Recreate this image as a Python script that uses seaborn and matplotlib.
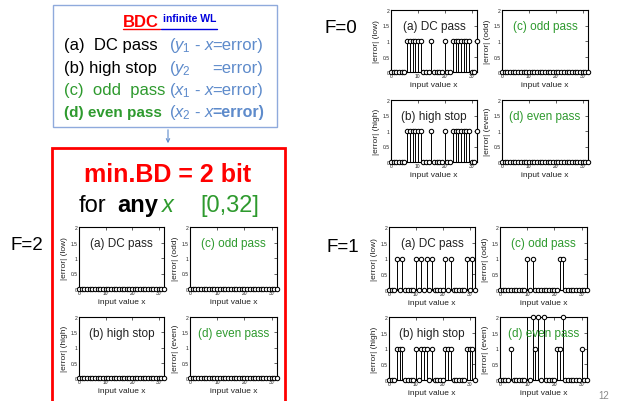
import matplotlib
matplotlib.use("Agg")
import matplotlib.pyplot as plt
import seaborn as sns
from matplotlib.patches import Rectangle, FancyArrowPatch
from matplotlib.lines import Line2D

# Datos: |error| para x = 0..32
x_vals = list(range(33))

f0_low = [0, 0, 0, 0, 0, 0, 1, 1, 1, 1, 1, 1, 0, 0, 0, 1, 0,
          0, 0, 0, 1, 0, 0, 1, 1, 1, 1, 1, 1, 1, 0, 0, 1]
f0_high = [0, 0, 0, 0, 0, 0, 1, 1, 1, 1, 1, 1, 0, 0, 0, 1, 0,
           0, 0, 0, 1, 0, 0, 1, 1, 1, 1, 1, 1, 1, 0, 0, 1]
f0_odd = [0, 0, 0, 0, 0, 0, 0, 0, 0, 0, 0, 0, 0, 0, 0, 0, 0,
          0, 0, 0, 0, 0, 0, 0, 0, 0, 0, 0, 0, 0, 0, 0, 0]
f0_even = [0, 0, 0, 0, 0, 0, 0, 0, 0, 0, 0, 0, 0, 0, 0, 0, 0,
           0, 0, 0, 0, 0, 0, 0, 0, 0, 0, 0, 0, 0, 0, 0, 0]

f1_low = [0, 0, 0, 1, 0, 1, 0, 0, 0, 0, 1, 0, 1, 0, 1, 0, 1,
          0, 0, 0, 0, 1, 0, 1, 0, 0, 0, 0, 0, 1, 0, 1, 0]
f1_high = [0, 0, 0, 1, 1, 1, 0, 0, 0, 0, 1, 0, 1, 1, 1, 0, 1,
           0, 0, 0, 0, 1, 1, 1, 0, 0, 0, 0, 0, 1, 1, 1, 0]
f1_odd = [0, 0, 0, 0, 0, 0, 0, 0, 0, 0, 1, 0, 1, 0, 0, 0, 0,
          0, 0, 0, 0, 0, 1, 1, 0, 0, 0, 0, 0, 0, 0, 0, 0]
f1_even = [0, 0, 0, 0, 1, 0, 0, 0, 0, 0, 3, 0, 2, 1, 2, 0, 2,
           0, 0, 0, 0, 1, 1, 2, 0, 0, 0, 0, 0, 0, 1, 0, 0]

f2_zero = [0, 0, 0, 0, 0, 0, 0, 0, 0, 0, 0, 0, 0, 0, 0, 0, 0,
           0, 0, 0, 0, 0, 0, 0, 0, 0, 0, 0, 0, 0, 0, 0, 0]

y_ticks = [0, 0.5, 1, 1.5, 2]
y_tick_labels = ["0", "0.5", "1", "1.5", "2"]
x_ticks = [0, 10, 20, 30]

W, H = 621, 402
VERDE = "#2E9A2E"
AZUL_CLARO = "#5E8BCB"
ROJO = "#FF0000"

sns.set_theme(style="white")
plt.rcParams["font.family"] = ["Liberation Sans", "DejaVu Sans"]
plt.rcParams["mathtext.fontset"] = "custom"
plt.rcParams["mathtext.rm"] = "Liberation Sans"
plt.rcParams["mathtext.it"] = "Liberation Sans:italic"
plt.rcParams["mathtext.bf"] = "Liberation Sans:bold"

fig = plt.figure(figsize=(W / 100, H / 100), dpi=100)
fig.patch.set_facecolor("white")


def fx(px):
    return px / W


def fy(py):
    return 1 - py / H


def texto(px, py, s, **kw):
    fig.text(fx(px), fy(py), s, va="baseline", **kw)


def panel(l, t, r, b, valores, ylab, titulo, color_titulo):
    ax = fig.add_axes([fx(l), fy(b), (r - l) / W, (b - t) / H])
    ax.set_xlim(0, 32)
    ax.set_ylim(0, 2)
    # Tallos
    ax.vlines(x_vals, 0, valores, color="black", lw=0.7, zorder=2)
    # Marcadores (los que quedan fuera del eje no se dibujan)
    xs = [xv for xv, v in zip(x_vals, valores) if v <= 2]
    ys = [v for v in valores if v <= 2]
    sns.scatterplot(x=xs, y=ys, ax=ax, marker="o", s=10, color="white",
                    edgecolor="black", linewidth=0.75, clip_on=False,
                    zorder=3, legend=False)
    ax.set_xticks(x_ticks)
    ax.set_xticklabels([str(v) for v in x_ticks])
    ax.set_yticks(y_ticks)
    ax.set_yticklabels(y_tick_labels)
    ax.tick_params(direction="in", length=2, width=0.5, labelsize=3.6,
                   pad=1, top=True, right=True, colors="#222222")
    for sp in ax.spines.values():
        sp.set_linewidth(0.8)
        sp.set_color("black")
    ax.set_xlabel("input value x", fontsize=6, labelpad=2, color="#222222")
    ax.set_ylabel(ylab, fontsize=6, labelpad=2, color="#222222")
    ax.text(0.5, 0.74, titulo, transform=ax.transAxes, ha="center",
            va="center", fontsize=8.5, color=color_titulo)
    return ax


# Cuadro superior (BDC)
fig.add_artist(Rectangle((fx(53), fy(128)), (277 - 53) / W, (128 - 6) / H,
                         transform=fig.transFigure, fill=False,
                         edgecolor="#8FAADC", lw=1))
texto(123, 27, "BDC", fontsize=12, fontweight="bold", color=ROJO)
texto(163, 22, "infinite WL", fontsize=7.5, fontweight="bold", color="#0000DD")
fig.add_artist(Line2D([fx(123), fx(160)], [fy(30), fy(30)], color=ROJO, lw=1))
fig.add_artist(Line2D([fx(161), fx(217)], [fy(30), fy(30)], color="#0000DD", lw=1))

texto(64, 50, "(a)  DC pass", fontsize=12, color="black")
texto(169, 50, r"($y_1$ - $x$", fontsize=12, color=AZUL_CLARO)
texto(212, 50, "=error)", fontsize=12, color=AZUL_CLARO)
texto(64, 73, "(b) high stop", fontsize=12, color="black")
texto(169, 73, r"($y_2$", fontsize=12, color=AZUL_CLARO)
texto(212, 73, "=error)", fontsize=12, color=AZUL_CLARO)
texto(64, 95, "(c)  odd  pass", fontsize=12, color=VERDE)
texto(169, 95, r"($x_1$ - $x$", fontsize=12, color=AZUL_CLARO)
texto(212, 95, "=error)", fontsize=12, color=AZUL_CLARO)
texto(64, 117, "(d) even pass", fontsize=11, fontweight="bold", color=VERDE)
texto(169, 117, r"($x_2$ - $x$", fontsize=12, color=AZUL_CLARO)
texto(212, 117, "=error)", fontsize=11.5, fontweight="bold", color=AZUL_CLARO)

# Flecha
fig.add_artist(FancyArrowPatch((fx(168), fy(128)), (fx(168), fy(147)),
                               transform=fig.transFigure, arrowstyle="->",
                               color=AZUL_CLARO, lw=0.8, mutation_scale=6))

# Cuadro rojo
fig.add_artist(Rectangle((fx(52), fy(420)), (285 - 52) / W, (420 - 149) / H,
                         transform=fig.transFigure, fill=False,
                         edgecolor=ROJO, lw=2))
fig.text(fx(168), fy(182), "min.BD = 2 bit", ha="center", va="baseline",
         fontsize=18, fontweight="bold", color=ROJO)
texto(79, 212, "for", fontsize=17, color="black")
texto(117, 212, "any", fontsize=17, fontweight="bold", color="black")
texto(162, 212, "x", fontsize=17, style="italic", color=VERDE)
texto(200, 212, "[0,32]", fontsize=17, color=VERDE)

# Etiquetas F
texto(11, 250, "F=2", fontsize=13.5, color="black")
texto(325, 33, "F=0", fontsize=13.5, color="black")
texto(326, 252, "F=1", fontsize=13.5, color="black")

# F=2
panel(79, 228, 164, 290, f2_zero, "|error| (low)", "(a) DC pass", "#222222")
panel(190, 228, 277, 290, f2_zero, "|error| (odd)", "(c) odd pass", VERDE)
panel(79, 318, 164, 379, f2_zero, "|error| (high)", "(b) high stop", "#222222")
panel(190, 318, 277, 379, f2_zero, "|error| (even)", "(d) even pass", VERDE)

# F=0
panel(391, 11, 477, 73, f0_low, "|error| (low)", "(a) DC pass", "#222222")
panel(502, 11, 588, 73, f0_odd, "|error| (odd)", "(c) odd pass", VERDE)
panel(391, 101, 477, 163, f0_high, "|error| (high)", "(b) high stop", "#222222")
panel(502, 101, 588, 163, f0_even, "|error| (even)", "(d) even pass", VERDE)

# F=1
panel(389, 228, 475, 291, f1_low, "|error| (low)", "(a) DC pass", "#222222")
panel(500, 228, 587, 291, f1_odd, "|error| (odd)", "(c) odd pass", VERDE)
panel(389, 318, 475, 381, f1_high, "|error| (high)", "(b) high stop", "#222222")
panel(500, 318, 587, 381, f1_even, "|error| (even)", "(d) even pass", VERDE)

# Numero de pagina
texto(598, 399, "12", fontsize=7, color="#8A8A8A")

plt.savefig("out.png", dpi=100)
plt.close()
